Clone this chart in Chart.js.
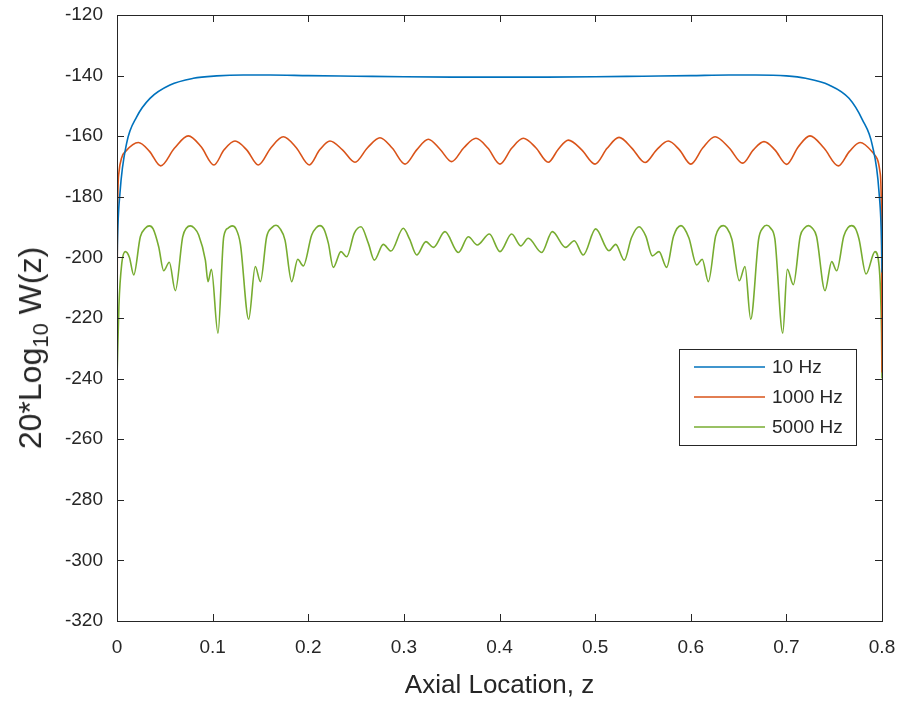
<!DOCTYPE html>
<html>
<head>
<meta charset="utf-8">
<script src="https://cdn.jsdelivr.net/npm/chart.js@4.4.0/dist/chart.umd.min.js"></script>
<style>
  body { margin: 0; background: #fff; }
  #wrap { position: relative; width: 902px; height: 701px; }
  #ylabel {
    position: absolute; left: 33px; top: 348px;
    transform: translate(-50%, -50%) rotate(-90deg);
    font: 32px "Liberation Sans", Arial, sans-serif; color: #262626;
    white-space: nowrap;
  }
  #ylabel sub { font-size: 22px; vertical-align: -7px; }
</style>
</head>
<body>
<div id="wrap">
  <canvas id="grafico" width="902" height="701"></canvas>
  <div id="ylabel">20*Log<sub>10</sub> W(z)</div>
</div>
<script>
// valores
const xTicks = [0, 0.1, 0.2, 0.3, 0.4, 0.5, 0.6, 0.7, 0.8];
const yTicks = [-320, -300, -280, -260, -240, -220, -200, -180, -160, -140, -120];

const etiquetas = ['10 Hz', '1000 Hz', '5000 Hz'];
const colores = ['#0072BD', '#D95319', '#77AC30'];

const z10 = [0, 0.0004, 0.0031, 0.0101, 0.0206, 0.0345, 0.0554, 0.0798, 0.1042, 0.132, 0.16, 0.2, 0.25, 0.3, 0.35,
  0.4, 0.45, 0.5, 0.55, 0.6, 0.64, 0.668, 0.7, 0.7202, 0.7446, 0.7655, 0.7794, 0.7899, 0.7969, 0.7996, 0.8];
const w10 = [-205, -196, -178.8, -162.3, -153.6, -147.5, -143.1, -140.9, -140.1, -139.8, -139.8, -140.0, -140.2, -140.4, -140.5,
  -140.5, -140.5, -140.4, -140.2, -140.0, -139.8, -139.8, -140.1, -140.9, -143.1, -147.5, -154.5, -163, -178.5, -196, -205];

const z1000 = [0, 0.0004, 0.002, 0.005, 0.009, 0.0223, 0.034, 0.0457, 0.060, 0.0746, 0.088, 0.1014, 0.112, 0.1234,
  0.1356, 0.1478, 0.161, 0.1739, 0.1875, 0.2011, 0.212, 0.2227, 0.2358, 0.2489, 0.262, 0.275, 0.288, 0.3012,
  0.3134, 0.3256, 0.3378, 0.35, 0.3627, 0.3754, 0.388, 0.4005, 0.4127, 0.4249, 0.438, 0.451, 0.4615, 0.472,
  0.486, 0.4999, 0.5125, 0.525, 0.5386, 0.5522, 0.5643, 0.5765, 0.5882, 0.6, 0.6127, 0.6254, 0.64, 0.6543,
  0.6655, 0.6766, 0.688, 0.7003, 0.7125, 0.7247, 0.7395, 0.7543, 0.766, 0.777, 0.791, 0.795, 0.798, 0.7996, 0.8];
const w1000 = [-238, -190, -172, -167, -165, -162.1, -165, -169.8, -164, -159.9, -163.5, -169.5, -164.5, -161.6,
  -164.5, -169.5, -163.8, -160.2, -163.8, -169.5, -164.5, -161.6, -164.5, -168.6, -163.8, -160.5, -164, -169.2,
  -164.5, -161, -164.3, -168.4, -163.8, -160.7, -164, -169.2, -164, -160.7, -163.8, -168.6, -164.3, -161.3,
  -164.5, -169.2, -164, -160.4, -164, -168.7, -164.5, -161.6, -164.5, -169.2, -163.8, -160.2, -163.8, -168.9,
  -164.5, -161.8, -164.5, -169.3, -163.5, -159.9, -164, -169.8, -165, -162.1, -165.6, -167.5, -172, -190, -238];

const z5000 = [0, 0.002, 0.005, 0.0087, 0.013, 0.0175, 0.0244, 0.0298, 0.0338, 0.0378, 0.0436, 0.0488, 0.0547, 0.061,
  0.0687, 0.0727, 0.0767, 0.0807, 0.0854, 0.0924, 0.0952, 0.0987, 0.1056, 0.1116, 0.1163, 0.1203, 0.1243, 0.129,
  0.1377, 0.1446, 0.15, 0.1565, 0.1623, 0.1663, 0.1703, 0.1757, 0.1827, 0.189, 0.1948, 0.2036, 0.2083, 0.2123,
  0.2163, 0.221, 0.2262, 0.2342, 0.2402, 0.2482, 0.2552, 0.2628, 0.2691, 0.2785, 0.2865, 0.2994, 0.306, 0.3134,
  0.3231, 0.3308, 0.343, 0.357, 0.3674, 0.3768, 0.3894, 0.4005, 0.4127, 0.4222, 0.4301, 0.4441, 0.4552, 0.4692,
  0.4782, 0.4876, 0.5006, 0.5145, 0.5215, 0.5305, 0.538, 0.5459, 0.553, 0.5598, 0.5668, 0.5748, 0.582, 0.5898,
  0.598, 0.6062, 0.612, 0.6184, 0.626, 0.63, 0.634, 0.638, 0.643, 0.6508, 0.6567, 0.6627, 0.671, 0.6754, 0.6794,
  0.6834, 0.688, 0.6962, 0.701, 0.7073, 0.7145, 0.719, 0.723, 0.727, 0.7315, 0.7404, 0.7474, 0.7526, 0.760, 0.7643,
  0.7683, 0.7723, 0.776, 0.7833, 0.7927, 0.797, 0.7995, 0.8];
const w5000 = [-240, -216, -202, -198.1, -200, -205.8, -193.2, -190.3, -189.6, -190.6, -196.5, -204.4, -201.6, -211,
  -193.2, -190.3, -189.6, -190.3, -192.6, -200.9, -208, -203.9, -225, -193.2, -190.3, -189.6, -190.5, -195.5,
  -220.4, -203, -208, -193.2, -190.1, -189.4, -190.4, -194.3, -208, -200.6, -202.8, -192.6, -190.2, -189.5,
  -190.6, -195.3, -203.3, -198.1, -199.8, -192, -189.9, -195.3, -200.9, -195.7, -197.9, -190.4, -194, -199.2,
  -194.8, -196.7, -191.5, -198.4, -193.2, -195.9, -192.3, -198.1, -192.3, -196.2, -193.7, -198.4, -191.5, -196.7,
  -194.5, -199.2, -190.6, -197.8, -195.7, -200.9, -193.5, -189.9, -193, -199.5, -198.1, -203.3, -193, -189.5,
  -193.5, -202.5, -200.6, -208, -193, -190.2, -189.5, -190.4, -194, -207.7, -203, -220.4, -194, -190.3, -189.4,
  -190.3, -194, -225, -203.9, -209, -193, -190.3, -189.5, -190.3, -193, -211, -201.4, -204.4, -193, -190.2,
  -189.5, -190.5, -194, -205.5, -198.1, -203, -225, -240];

const series = [[z10, w10], [z1000, w1000], [z5000, w5000]];

const EJES = '#262626';
const FUENTE = '"Liberation Sans", Arial, sans-serif';

// marcas de eje hacia dentro, caja y leyenda
const marcoPlugin = {
  id: 'marco',
  afterDraw(chart) {
    const { ctx, chartArea: a, scales } = chart;
    const L = 7;
    ctx.save();
    ctx.strokeStyle = EJES;
    ctx.lineWidth = 1;
    ctx.beginPath();
    xTicks.forEach(v => {
      const px = Math.round(scales.x.getPixelForValue(v)) + 0.5;
      ctx.moveTo(px, a.bottom); ctx.lineTo(px, a.bottom - L);
      ctx.moveTo(px, a.top); ctx.lineTo(px, a.top + L);
    });
    yTicks.forEach(v => {
      const py = Math.round(scales.y.getPixelForValue(v)) + 0.5;
      ctx.moveTo(a.left, py); ctx.lineTo(a.left + L, py);
      ctx.moveTo(a.right, py); ctx.lineTo(a.right - L, py);
    });
    ctx.stroke();
    ctx.strokeRect(Math.round(a.left) + 0.5, Math.round(a.top) + 0.5,
      Math.round(a.right - a.left), Math.round(a.bottom - a.top));

    // leyenda
    const bx = 679.5, by = 349.5, bw = 177, bh = 96;
    ctx.fillStyle = '#fff';
    ctx.fillRect(bx, by, bw, bh);
    ctx.strokeStyle = EJES;
    ctx.strokeRect(bx, by, bw, bh);
    ctx.font = '19px ' + FUENTE;
    ctx.textBaseline = 'middle';
    etiquetas.forEach((t, i) => {
      const y = 367 + i * 30;
      ctx.strokeStyle = colores[i];
      ctx.lineWidth = 1.5;
      ctx.beginPath();
      ctx.moveTo(694, y); ctx.lineTo(765, y);
      ctx.stroke();
      ctx.fillStyle = EJES;
      ctx.fillText(t, 772, y + 1);
    });
    ctx.restore();
  }
};

new Chart(document.getElementById('grafico'), {
  type: 'line',
  data: {
    datasets: series.map((s, i) => ({
      label: etiquetas[i],
      data: s[0].map((z, k) => ({ x: z, y: s[1][k] })),
      borderColor: colores[i],
      borderWidth: 1.6,
      pointRadius: 0,
      fill: false,
      cubicInterpolationMode: 'monotone'
    }))
  },
  options: {
    responsive: false,
    animation: false,
    layout: { padding: { top: 15, right: 20, left: 0, bottom: 0 } },
    plugins: { legend: { display: false }, tooltip: { enabled: false } },
    scales: {
      x: {
        type: 'linear', min: 0, max: 0.8,
        afterBuildTicks: s => { s.ticks = xTicks.map(v => ({ value: v })); },
        afterFit: s => { s.height = 80; s.paddingLeft = 0; s.paddingRight = 0; },
        grid: { display: false, drawTicks: false },
        border: { display: false },
        ticks: { color: EJES, font: { family: FUENTE, size: 19 }, padding: 15, maxRotation: 0,
          callback: v => String(v) },
        title: { display: true, text: 'Axial Location, z', color: EJES,
          font: { family: FUENTE, size: 26 }, padding: { top: 0, bottom: 0 } }
      },
      y: {
        min: -320, max: -120,
        afterBuildTicks: s => { s.ticks = yTicks.map(v => ({ value: v })); },
        afterFit: s => { s.width = 117; s.paddingTop = 0; s.paddingBottom = 0; },
        grid: { display: false, drawTicks: false },
        border: { display: false },
        ticks: { color: EJES, font: { family: FUENTE, size: 19 }, padding: 14 }
      }
    }
  },
  plugins: [marcoPlugin]
});
</script>
</body>
</html>
